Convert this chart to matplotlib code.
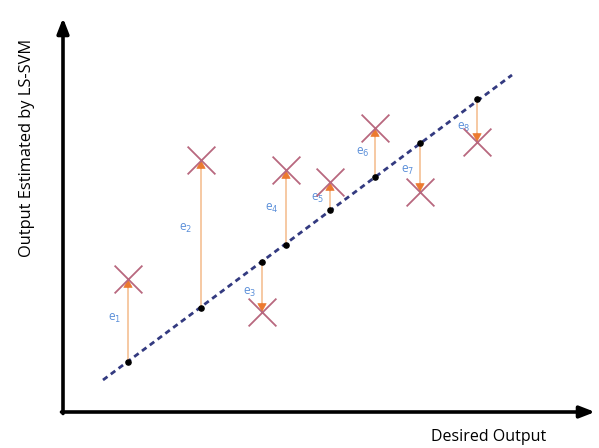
import matplotlib
matplotlib.use("Agg")
import matplotlib.pyplot as plt
import numpy as np

# Data (diagram units: origin at axes corner)
x_vals = [65, 138, 199, 223, 267, 312, 357, 414]        # desired output
line_vals = [50, 104, 150, 167, 202, 235, 269, 313]     # on regression line
est_vals = [133, 252, 100, 242, 230, 284, 220, 270]     # estimated by LS-SVM
err_labels = ["e$_1$", "e$_2$", "e$_3$", "e$_4$", "e$_5$", "e$_6$", "e$_7$", "e$_8$"]
label_x = [52, 123, 187, 209, 255, 300, 345, 401]
label_y = [94, 184, 120, 204, 214, 260, 242, 285]
line_x = [40, 449]
line_y = [32, 337]

fig = plt.figure(figsize=(5.99, 4.48), dpi=100)
ax = fig.add_axes([0, 0, 1, 1])
ax.set_xlim(-63, 536)
ax.set_ylim(-36, 412)
ax.axis("off")

# axes arrows
ax.annotate("", xy=(532, 0), xytext=(-1.5, 0),
            arrowprops=dict(arrowstyle="-|>,head_length=0.9,head_width=0.35", lw=2.6, color="black",
                            shrinkA=0, shrinkB=0))
ax.annotate("", xy=(0, 394), xytext=(0, -1.5),
            arrowprops=dict(arrowstyle="-|>,head_length=0.9,head_width=0.35", lw=2.6, color="black",
                            shrinkA=0, shrinkB=0))

# regression line
ax.plot(line_x, line_y, linestyle=(0, (2.0, 1.5)), color="#333a80", lw=2.0, zorder=2)

# error arrows
for x, yl, ye in zip(x_vals, line_vals, est_vals):
    d = 1 if ye > yl else -1
    ax.plot([x, x], [yl, ye], color="#f6c59c", lw=1.3, zorder=3)
    ax.annotate("", xy=(x, ye), xytext=(x, ye - d * 9),
                arrowprops=dict(arrowstyle="-|>,head_length=0.55,head_width=0.3", lw=0.5,
                                color="#ec7a30", shrinkA=0, shrinkB=0), zorder=4)

# crosses
ax.scatter(x_vals, est_vals, marker="x", s=400, color="#b8687f", linewidths=1.3, zorder=5)
# points on line
ax.scatter(x_vals, line_vals, s=14, color="black", zorder=6)

for lx, ly, t in zip(label_x, label_y, err_labels):
    ax.text(lx, ly, t, color="#5b8fd9", fontsize=8.5, ha="center", va="center",
            family="Open Sans")

ax.text(-36, 264, "Output Estimated by LS-SVM", rotation=90, ha="center", va="center",
        fontsize=11.8, family="Open Sans")
ax.text(426, -25, "Desired Output", ha="center", va="center", fontsize=11.5, family="Open Sans")

fig.savefig("out.png", dpi=100)
